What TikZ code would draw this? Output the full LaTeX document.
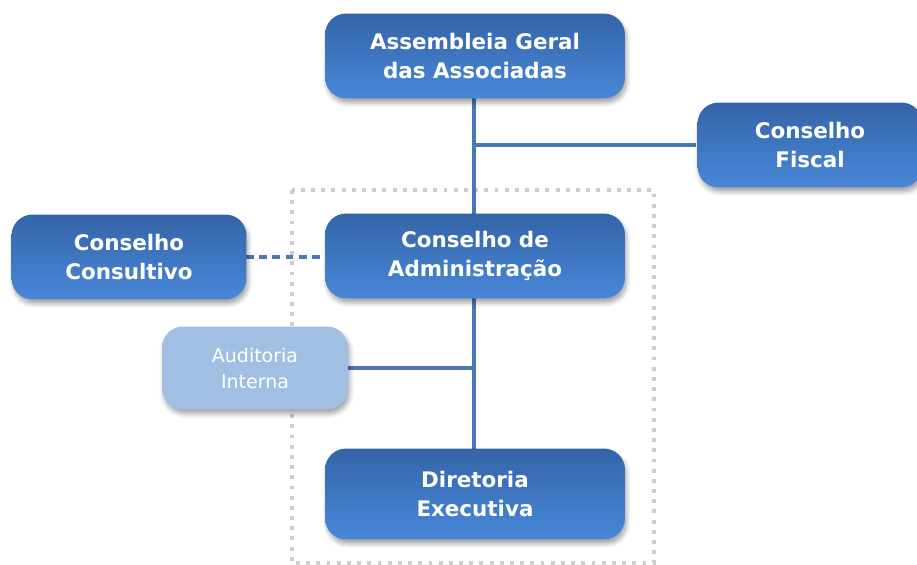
\documentclass[tikz,border=0pt]{standalone}
\usepackage{fontspec}
\setmainfont{DejaVu Sans}
\usetikzlibrary{shapes,arrows,positioning,calc,fit,backgrounds,shadows,shadows.blur}
\definecolor{boxtop}{RGB}{52,100,168}
\definecolor{boxbottom}{RGB}{72,136,216}
\definecolor{linkblue}{RGB}{74,120,182}
\definecolor{auditblue}{RGB}{160,191,227}
\definecolor{framegray}{RGB}{205,205,205}

\begin{document}
\begin{tikzpicture}[x=0.02cm, y=-0.02cm,
    orgbox/.style={rounded corners=12pt, minimum width=6cm, minimum height=1.7cm, align=center,
      top color=boxtop, bottom color=boxbottom, text=white, font=\fontsize{12.2}{16.5}\selectfont\bfseries,
      blur shadow={shadow xshift=1pt, shadow yshift=-2.5pt, shadow opacity=35, shadow blur radius=2.5pt}},
    link/.style={line width=2.5pt, linkblue}]
  \useasboundingbox (0,0) rectangle (917,565);

  % Frame round the executive part
  \draw[framegray, line width=2.2pt, dash pattern=on 2.2pt off 3.6pt] (292,190) rectangle (654,563);

  % Links (behind the boxes)
  \coordinate (fiscaltap) at (474,145);
  \coordinate (audittap) at (474,368);
  \draw[link] (474,98) -- (474,449);
  \draw[link] (fiscaltap) -- (696,145);
  \draw[link] (348,368) -- (audittap);
  \draw[link, dash pattern=on 4.5pt off 3pt] (246,257) -- (326,257);

  % Boxes
  \node[orgbox] (assembleia) at (475,56) {Assembleia Geral\\das Associadas};
  \node[orgbox, minimum width=4.5cm] (fiscal) at (810,145) {Conselho\\Fiscal};
  \node[orgbox] (admin) at (475,256) {Conselho de\\Administração};
  \node[orgbox, minimum width=4.7cm] (consultivo) at (129,257) {Conselho\\Consultivo};
  \node[orgbox, minimum width=3.72cm, minimum height=1.66cm, top color=auditblue, bottom color=auditblue,
    font=\fontsize{10.8}{14.8}\selectfont] (auditoria) at (255,368) {Auditoria\\Interna};
  \node[orgbox, minimum height=1.82cm] (diretoria) at (475,494) {Diretoria\\Executiva};
\end{tikzpicture}
\end{document}
